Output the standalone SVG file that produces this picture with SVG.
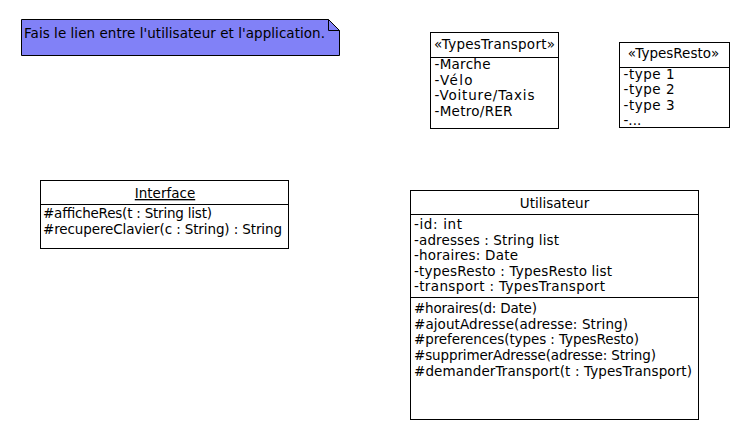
<svg xmlns="http://www.w3.org/2000/svg" width="750" height="440" viewBox="0 0 750 440">
<style>
text{font-family:"DejaVu Sans","Noto Sans",sans-serif;font-size:13.5px;fill:#000}
.c{text-anchor:middle}
.box{fill:#fff;stroke:#000;stroke-width:1}
.ln{stroke:#000;stroke-width:1}
</style>
<rect width="750" height="440" fill="#fff"/>
<g id="note">
<path d="M21.5,19.5 H328.5 L339.5,30.5 V55.5 H21.5 Z" fill="#8181f7" stroke="#000"/>
<path d="M328.5,19.5 V30.5 H339.5" fill="none" stroke="#000"/>
<text x="24" y="38" textLength="301" lengthAdjust="spacing">Fais le lien entre l'utilisateur et l'application.</text>
</g>
<g id="TypesTransport">
<rect class="box" x="430.5" y="32.5" width="128" height="96"/>
<line class="ln" x1="430.5" y1="57.5" x2="558.5" y2="57.5"/>
<text x="434" y="49" textLength="121" lengthAdjust="spacing">«TypesTransport»</text>
<text x="434.5" y="69" textLength="56" lengthAdjust="spacing">-Marche</text>
<text x="434.5" y="85" textLength="38" lengthAdjust="spacing">-Vélo</text>
<text x="434.5" y="100" textLength="100" lengthAdjust="spacing">-Voiture/Taxis</text>
<text x="434.5" y="116" textLength="78" lengthAdjust="spacing">-Metro/RER</text>
</g>
<g id="TypesResto">
<rect class="box" x="619.5" y="42.5" width="110" height="85"/>
<line class="ln" x1="619.5" y1="67.5" x2="729.5" y2="67.5"/>
<text class="c" x="673.5" y="58">«TypesResto»</text>
<text x="623.5" y="79" textLength="51" lengthAdjust="spacing">-type 1</text>
<text x="623.5" y="94" textLength="51" lengthAdjust="spacing">-type 2</text>
<text x="623.5" y="110" textLength="51" lengthAdjust="spacing">-type 3</text>
<text x="623.5" y="125">-...</text>
</g>
<g id="Interface">
<rect class="box" x="40.5" y="180.5" width="248" height="68"/>
<line class="ln" x1="40.5" y1="204.5" x2="288.5" y2="204.5"/>
<text class="c" x="165" y="198" text-decoration="underline">Interface</text>
<text x="43" y="218" textLength="169" lengthAdjust="spacing">#afficheRes(t : String list)</text>
<text x="43" y="234" textLength="239" lengthAdjust="spacing">#recupereClavier(c : String) : String</text>
</g>
<g id="Utilisateur">
<rect class="box" x="410.5" y="190.5" width="288" height="229"/>
<line class="ln" x1="410.5" y1="214.5" x2="698.5" y2="214.5"/>
<line class="ln" x1="410.5" y1="297.5" x2="698.5" y2="297.5"/>
<text class="c" x="554.5" y="208">Utilisateur</text>
<text x="414" y="229" textLength="48" lengthAdjust="spacing">-id: int</text>
<text x="414" y="245" textLength="145" lengthAdjust="spacing">-adresses : String list</text>
<text x="414" y="260" textLength="104" lengthAdjust="spacing">-horaires: Date</text>
<text x="414" y="276" textLength="198" lengthAdjust="spacing">-typesResto : TypesResto list</text>
<text x="414" y="291" textLength="191" lengthAdjust="spacing">-transport : TypesTransport</text>
<text x="414" y="313" textLength="123" lengthAdjust="spacing">#horaires(d: Date)</text>
<text x="414" y="329" textLength="214" lengthAdjust="spacing">#ajoutAdresse(adresse: String)</text>
<text x="414" y="344" textLength="225" lengthAdjust="spacing">#preferences(types : TypesResto)</text>
<text x="414" y="360" textLength="242" lengthAdjust="spacing">#supprimerAdresse(adresse: String)</text>
<text x="414" y="376" textLength="278" lengthAdjust="spacing">#demanderTransport(t : TypesTransport)</text>
</g>
<g id="connectors"></g>
</svg>
